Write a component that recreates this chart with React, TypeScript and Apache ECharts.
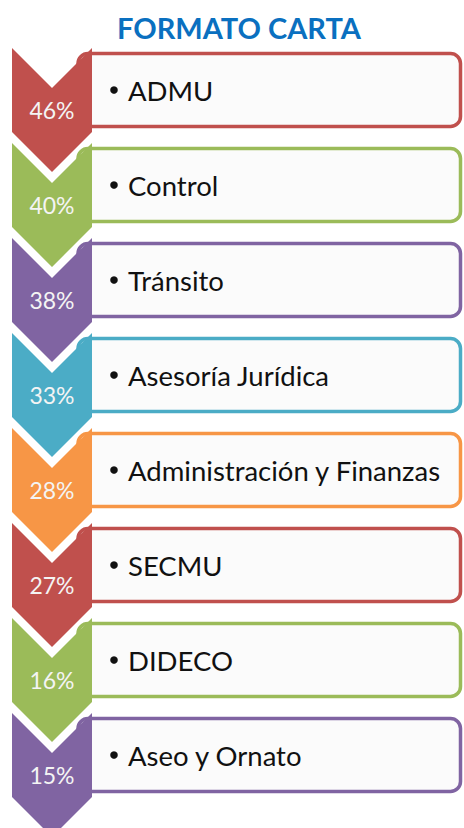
import React, { useEffect, useRef } from "react";
import * as echarts from "echarts";

const title = "FORMATO CARTA";
const categories = [
  "ADMU",
  "Control",
  "Tránsito",
  "Asesoría Jurídica",
  "Administración y Finanzas",
  "SECMU",
  "DIDECO",
  "Aseo y Ornato",
];
const percentages = [46, 40, 38, 33, 28, 27, 16, 15];
const colors = [
  "#c0504d",
  "#9bbb59",
  "#8064a2",
  "#4bacc6",
  "#f79646",
  "#c0504d",
  "#9bbb59",
  "#8064a2",
];

export default function App() {
  const ref = useRef<HTMLDivElement>(null);
  useEffect(() => {
    const chart = echarts.init(ref.current!, null, { renderer: "svg" });
    chart.setOption({
      animation: false,
      backgroundColor: "#ffffff",
      title: {
        text: title,
        left: 112,
        top: 8,
        textStyle: {
          fontFamily: "Lato",
          fontWeight: "bold",
          fontSize: 29,
          color: "#0a70c0",
        },
      },
      grid: { left: 0, right: 0, top: 48, height: 760 },
      xAxis: { type: "value", min: 0, max: 100, show: false },
      yAxis: { type: "category", data: categories, inverse: true, show: false },
      series: [
        {
          type: "custom",
          clip: false,
          data: percentages.map((v, i) => [v, i]),
          renderItem: (params: any, api: any) => {
            const idx = api.value(1);
            const val = api.value(0);
            const c = api.coord([0, idx]);
            const bandH = api.size([0, 1])[1];
            const y0 = c[1] - bandH / 2;
            const color = colors[idx];
            const x0 = 12;
            const w = 80;
            const d = 40;
            const h = 84;
            return {
              type: "group",
              children: [
                {
                  type: "rect",
                  shape: { x: 78, y: y0 + 5.5, width: 382.5, height: 73, r: 10 },
                  style: { fill: "#fbfbfb", stroke: color, lineWidth: 3.5 },
                },
                {
                  type: "polygon",
                  shape: {
                    points: [
                      [x0, y0],
                      [x0 + w / 2, y0 + d],
                      [x0 + w, y0],
                      [x0 + w, y0 + h],
                      [x0 + w / 2, y0 + h + d],
                      [x0, y0 + h],
                    ],
                  },
                  style: { fill: color },
                },
                {
                  type: "text",
                  style: {
                    x: x0 + w / 2,
                    y: y0 + 62,
                    text: val + "%",
                    align: "center",
                    verticalAlign: "middle",
                    fontFamily: "Lato",
                    fontSize: 23,
                    fill: "#f4f4f4",
                  },
                },
                {
                  type: "circle",
                  shape: { cx: 114, cy: y0 + 42, r: 3.8 },
                  style: { fill: "#111111" },
                },
                {
                  type: "text",
                  style: {
                    x: 128,
                    y: y0 + 42,
                    text: categories[idx],
                    align: "left",
                    verticalAlign: "middle",
                    fontFamily: "Lato",
                    fontSize: 27.5,
                    fill: "#111111",
                  },
                },
              ],
            };
          },
        },
      ],
    });
    return () => chart.dispose();
  }, []);
  return (
    <div
      ref={ref}
      style={{ position: "fixed", left: 0, top: 0, width: 464, height: 828 }}
    />
  );
}
